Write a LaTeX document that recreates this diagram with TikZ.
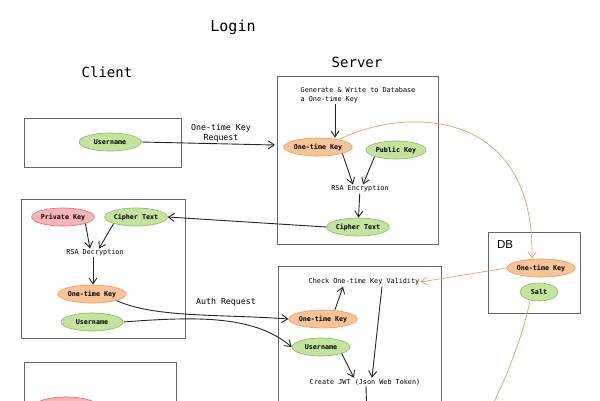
\documentclass[tikz,border=0pt]{standalone}
\usepackage{fontspec}
\setmainfont{Liberation Sans}
\setmonofont{DejaVu Sans Mono}
\usetikzlibrary{arrows.meta,calc,shapes.geometric}
\definecolor{KeyClr}{rgb}{0.97,0.77,0.6}
\definecolor{KeyLineClr}{rgb}{0.93,0.6,0.35}
\definecolor{NameClr}{rgb}{0.77,0.89,0.63}
\definecolor{NameLineClr}{rgb}{0.52,0.74,0.35}
\definecolor{PrivClr}{rgb}{0.97,0.71,0.71}
\definecolor{PrivLineClr}{rgb}{0.88,0.42,0.42}
\definecolor{BoxClr}{rgb}{0.4,0.4,0.4}
\definecolor{LinkClr}{rgb}{0.94,0.62,0.35}

\begin{document}
\begin{tikzpicture}[x=1pt,y=-1pt,
  title/.style={font=\ttfamily\fontsize{14}{17}\selectfont},
  box/.style={draw=BoxClr,line width=0.8pt},
  oval/.style={ellipse,inner sep=0pt,minimum height=18pt,line width=0.6pt,
    font=\ttfamily\bfseries\fontsize{6.7}{8}\selectfont},
  keyoval/.style={oval,fill=KeyClr,draw=KeyLineClr,minimum width=66pt},
  nameoval/.style={oval,fill=NameClr,draw=NameLineClr},
  privoval/.style={oval,fill=PrivClr,draw=PrivLineClr,minimum width=62pt},
  txt/.style={font=\ttfamily\fontsize{6.8}{8.5}\selectfont,inner sep=1pt},
  lbl/.style={font=\ttfamily\fontsize{8.3}{10}\selectfont,align=center,inner sep=0pt},
  arr/.style={-{Straight Barb[length=6pt,width=8pt]},line width=0.9pt,draw=black!85},
  link/.style={arr,draw=LinkClr,line width=0.7pt}]
\clip (0,0) rectangle (600,400);

\node[title,font=\ttfamily\fontsize{15}{18}\selectfont] (login) at (233,27) {Login};
\node[title] (client) at (107,72) {Client};
\node[title] (server) at (357,62) {Server};

% boxes
\draw[box] (24,118) rectangle (181,167);
\draw[box] (277,76) rectangle (438,244);
\draw[box] (21,199) rectangle (185,338);
\draw[box] (278,266) rectangle (441,420);
\draw[box] (488,232) rectangle (580,313);
\draw[box] (24,362) rectangle (176,420);

% client
\node[nameoval,minimum width=62pt] (c1user) at (110,142) {Username};
\node[privoval] (c2priv) at (63,217) {Private Key};
\node[nameoval,minimum width=62pt] (c2cipher) at (136,217) {Cipher Text};
\node[txt] (c2rsa) at (95,253) {RSA Decryption};
\node[keyoval] (c2otk) at (92,294) {One-time Key};
\node[nameoval,minimum width=62pt] (c2user) at (92,322) {Username};
\node[privoval] (c3priv) at (66,406) {};

% server
\node[txt,align=left] (gen) at (358,95) {Generate \& Write to Database\\a One-time Key};
\node[keyoval] (s1otk) at (318,147) {One-time Key};
\node[nameoval,minimum width=60pt] (s1pub) at (396,150) {Public Key};
\node[txt] (s1rsa) at (360,189) {RSA Encryption};
\node[nameoval,minimum width=60pt] (s1cipher) at (358,227) {Cipher Text};
\node[txt] (s2check) at (364,282) {Check One-time Key Validity};
\node[keyoval] (s2otk) at (323,319) {One-time Key};
\node[nameoval,minimum width=58pt] (s2user) at (321,347) {Username};
\node[txt] (s2jwt) at (365,382) {Create JWT (Json Web Token)};

% db
\node[font=\fontsize{11.5}{14}\selectfont] (db) at (505,245) {DB};
\node[keyoval] (dbotk) at (541,268) {One-time Key};
\node[nameoval,minimum width=38pt] (dbsalt) at (539,292) {Salt};

\node[lbl] (req) at (221,133) {One-time Key\\Request};
\node[lbl] (auth) at (226,302) {Auth Request};

\coordinate (s1in) at (275,145);
\coordinate (jwtout) at (367,420);
\coordinate (saltout) at (490,410);

\draw[arr] (c1user.east) -- (s1in);
\draw[arr] ([xshift=-23pt]gen.south) -- ([xshift=17pt]s1otk.north);
\draw[arr] (s1otk.south east) -- ([xshift=-7pt]s1rsa.north);
\draw[arr] (s1pub.south west) -- ([xshift=3pt]s1rsa.north);
\draw[arr] (s1rsa) -- (s1cipher);
\draw[arr] (s1cipher.west) -- (c2cipher.east);

\draw[arr] (c2priv.south east) -- ([xshift=-5pt]c2rsa.north);
\draw[arr] (c2cipher.south west) -- ([xshift=4pt]c2rsa.north);
\draw[arr] ([xshift=-2pt]c2rsa.south) -- ([xshift=1pt]c2otk.north);
\draw[arr] (c2otk.-15) .. controls (155,318) and (220,314) .. (s2otk.west);
\draw[arr] (c2user.east) .. controls (200,316) and (255,316) .. (s2user.west);

\draw[arr] ([xshift=12pt]s2otk.north) -- ([xshift=-21pt]s2check.south);
\draw[arr] ([xshift=18pt]s2check.south) -- ([xshift=7pt]s2jwt.north);
\draw[arr] (s2user.south east) -- ([xshift=-11pt]s2jwt.north);
\draw[line width=0.9pt,draw=black!85] ([xshift=1pt]s2jwt.south) -- (jwtout);

\draw[link] (s1otk.20) .. controls (410,105) and (535,110) .. ([xshift=-9pt]dbotk.north);
\draw[link] (dbotk.west) -- (s2check.east);
\draw[link,-] ([xshift=-9pt]dbsalt.south) .. controls (520,345) and (505,380) .. (saltout);

\end{tikzpicture}
\end{document}
